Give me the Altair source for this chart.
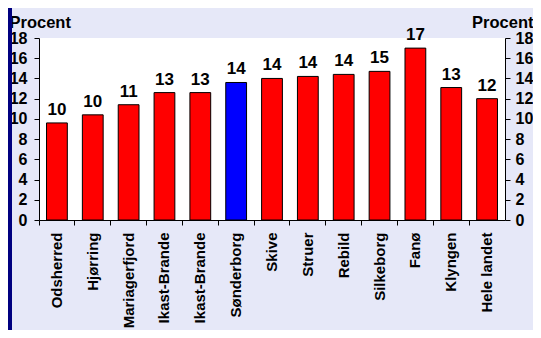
import altair as alt
import pandas as pd

names = ["Odsherred", "Hjørring", "Mariagerfjord", "Ikast-Brande", "Ikast-Brande",
         "Sønderborg", "Skive", "Struer", "Rebild", "Silkeborg", "Fanø", "Klyngen",
         "Hele landet"]
values = [9.6, 10.4, 11.4, 12.6, 12.6, 13.6, 14.0, 14.2, 14.4, 14.7, 17.0, 13.1, 12.0]
labels = ["10", "10", "11", "13", "13", "14", "14", "14", "14", "15", "17", "13", "12"]
highlight = [False, False, False, False, False, True, False, False, False, False, False, False, False]
y_ticks = [0, 2, 4, 6, 8, 10, 12, 14, 16, 18]

df = pd.DataFrame({
    "idx": list(range(len(names))),
    "name": names,
    "value": values,
    "label": labels,
    "hl": ["blue" if h else "red" for h in highlight],
})

FONT = "Liberation Sans"
label_expr = "[" + ",".join("'" + n + "'" for n in names) + "][datum.value]"

x_enc = alt.X(
    "idx:O",
    sort=None,
    scale=alt.Scale(paddingInner=0, paddingOuter=0),
    axis=alt.Axis(
        title=None, labelExpr=label_expr, labelAngle=-90, labelAlign="right",
        labelBaseline="middle", labelFont=FONT, labelFontSize=15,
        labelFontWeight="bold", labelColor="black", labelPadding=7,
        tickSize=5, tickColor="black", domainColor="black", bandPosition=0,
        labelOverlap=False,
    ),
)

y_scale = alt.Scale(domain=[0, 18], nice=False, zero=True)

def y_axis(orient):
    left = orient == "left"
    return alt.Axis(
        orient=orient, values=y_ticks, title="Procent", titleAngle=0,
        titleAlign="left" if left else "right",
        titleBaseline="alphabetic",
        titleX=-30 if left else 28, titleY=-11,
        titleFont=FONT, titleFontSize=16.5, titleFontWeight="bold", titleColor="black",
        labelFont=FONT, labelFontSize=16, labelFontWeight="bold", labelColor="black",
        labelPadding=7 if left else 5, tickSize=5, tickColor="black", domainColor="black",
        grid=False,
    )

base = alt.Chart(df)

bars = base.mark_bar(
    width=alt.RelativeBandSize(0.58), stroke="black", strokeWidth=1
).encode(
    x=x_enc,
    y=alt.Y("value:Q", scale=y_scale, axis=y_axis("left")),
    color=alt.Color("hl:N", scale=alt.Scale(domain=["red", "blue"], range=["#FF0000", "#0000FF"]), legend=None),
)

text = base.mark_text(
    font=FONT, fontSize=17, fontWeight="bold", color="black",
    baseline="alphabetic", dy=-8,
).encode(
    x=x_enc,
    y=alt.Y("value:Q", scale=y_scale, axis=y_axis("right")),
    text="label:N",
)

stripe = alt.Chart(pd.DataFrame({"a": [0]})).mark_rule(
    color="#000080", strokeWidth=4
).encode(x=alt.value(-29), y=alt.value(-30), y2=alt.value(400))

chart = alt.layer(bars, text, stripe).resolve_scale(y="shared").resolve_axis(y="independent").properties(
    width=466, height=182,
    autosize=alt.AutoSizeParams(type="none"),
    padding={"left": 31, "top": 30, "right": 28, "bottom": 110},
    background="#E6E8F8",
).configure_view(fill="white", stroke=None)

chart.save("out.html", embed_options={"renderer": "svg", "actions": False})
